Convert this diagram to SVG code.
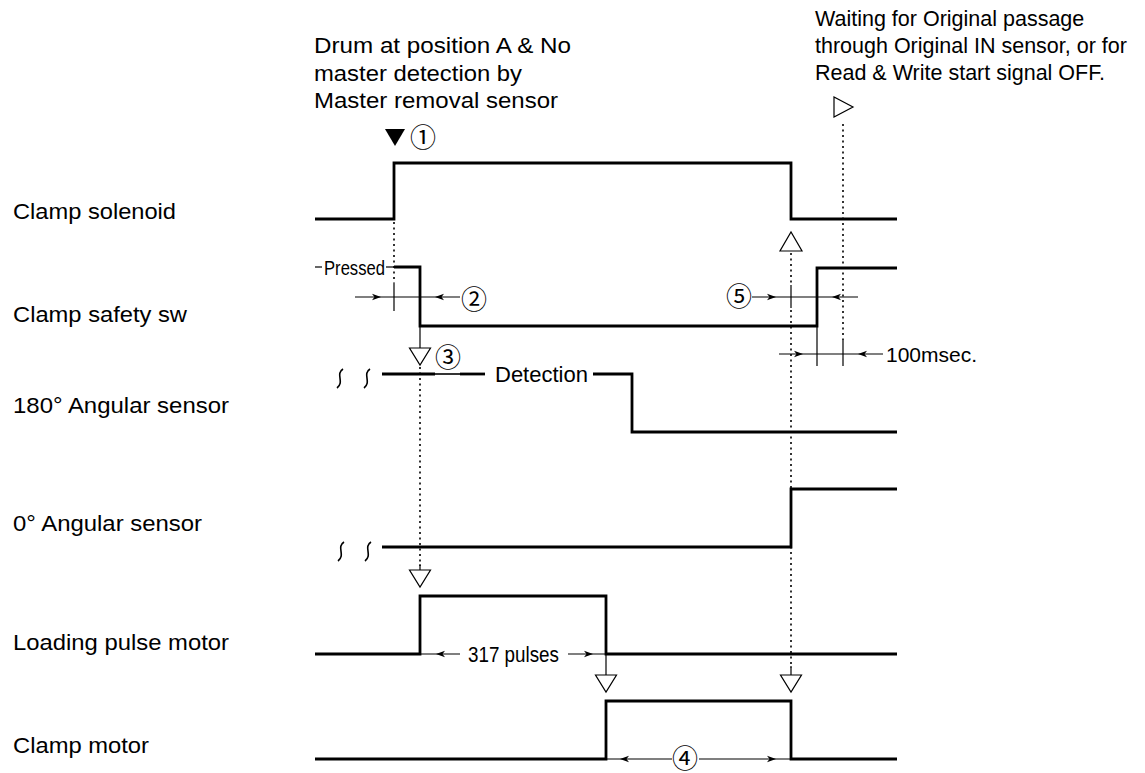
<svg xmlns="http://www.w3.org/2000/svg" xmlns:xlink="http://www.w3.org/1999/xlink" width="1145" height="773" viewBox="0 0 1145 773">
<style>
.sig{fill:none;stroke:#000;stroke-width:2.8;stroke-linejoin:miter}
.thin{fill:none;stroke:#000;stroke-width:1.2}
.sq{fill:none;stroke:#000;stroke-width:1.6}
.dot{fill:none;stroke:#000;stroke-width:1.6;stroke-dasharray:2 3.5}
.tri{fill:#fff;stroke:#000;stroke-width:1.2}
.lbl{font-family:"Liberation Sans",Arial,sans-serif;font-size:22px;fill:#000}
.note{font-family:"Liberation Sans",Arial,sans-serif;font-size:21.5px;fill:#000}
.num{font-family:"Noto Sans CJK JP","DejaVu Sans",sans-serif;font-size:26px;fill:#000;text-anchor:middle}
</style>
<defs>
<path id="arrR" d="M0,0 L-9,-3.2 L-6.5,0 L-9,3.2 Z" fill="#000"/>
<path id="arrL" d="M0,0 L9,-3.2 L6.5,0 L9,3.2 Z" fill="#000"/>
<path id="triDown" d="M-10.5,0 L10.5,0 L0,17 Z" class="tri"/>
</defs>
<rect width="1145" height="773" fill="#fff"/>

<g id="notes">
<text class="lbl" x="314" y="53" textLength="257" lengthAdjust="spacingAndGlyphs">Drum at position A &amp; No</text>
<text class="lbl" x="314" y="81" textLength="208" lengthAdjust="spacingAndGlyphs">master detection by</text>
<text class="lbl" x="314" y="108" textLength="244" lengthAdjust="spacingAndGlyphs">Master removal sensor</text>
<text class="note" x="815" y="26">Waiting for Original passage</text>
<text class="note" x="815" y="53">through Original IN sensor, or for</text>
<text class="note" x="815" y="80">Read &amp; Write start signal OFF.</text>
</g>

<g id="clamp-solenoid">
<text class="lbl" x="13" y="219" textLength="163" lengthAdjust="spacingAndGlyphs">Clamp solenoid</text>
<path class="sig" d="M315,219 H394 V163 H791 V219 H897"/>
</g>

<g id="clamp-safety-sw">
<text class="lbl" x="13" y="322" textLength="174" lengthAdjust="spacingAndGlyphs">Clamp safety sw</text>
<line class="thin" x1="315" y1="267" x2="322" y2="267"/>
<text class="lbl" x="324" y="275" textLength="61" lengthAdjust="spacingAndGlyphs" style="font-size:20px">Pressed</text>
<line class="thin" x1="386" y1="267" x2="395" y2="267"/>
<path class="sig" d="M394,267 H420 V326 H817 V268 H897"/>
</g>

<g id="angular-180">
<text class="lbl" x="13" y="413" textLength="216" lengthAdjust="spacingAndGlyphs">180° Angular sensor</text>
<path class="sq" d="M343,369 C335,374 345,382 337,388"/>
<path class="sq" d="M370,369 C362,374 372,382 364,388"/>
<path class="sig" d="M382,374 H435"/>
<path class="sig" d="M435,374 H460" style="stroke-width:1.6"/>
<path class="sig" d="M460,374 H485"/>
<text class="lbl" x="495" y="382">Detection</text>
<path class="sig" d="M593,374 H632 V432 H897"/>
</g>

<g id="angular-0">
<text class="lbl" x="13" y="531" textLength="189" lengthAdjust="spacingAndGlyphs">0° Angular sensor</text>
<path class="sq" d="M344,542 C336,547 346,555 338,561"/>
<path class="sq" d="M371,542 C363,547 373,555 365,561"/>
<path class="sig" d="M382,547 H791 V489 H897"/>
</g>

<g id="loading-pulse-motor">
<text class="lbl" x="13" y="650" textLength="216" lengthAdjust="spacingAndGlyphs">Loading pulse motor</text>
<path class="sig" d="M315,654 H420 V596 H606 V654 H897"/>
<line class="thin" x1="420" y1="654" x2="460" y2="654"/>
<use xlink:href="#arrL" x="436" y="654"/>
<text class="lbl" x="468" y="662" textLength="91" lengthAdjust="spacingAndGlyphs">317 pulses</text>
<line class="thin" x1="568" y1="654" x2="606" y2="654"/>
<use xlink:href="#arrR" x="593" y="654"/>
</g>

<g id="clamp-motor">
<text class="lbl" x="13" y="753" textLength="136" lengthAdjust="spacingAndGlyphs">Clamp motor</text>
<path class="sig" d="M315,759 H606 V701 H791 V759 H897"/>
<line class="thin" x1="606" y1="759" x2="672" y2="759"/>
<use xlink:href="#arrL" x="620" y="759"/>
<text class="num" x="685" y="768">④</text>
<line class="thin" x1="699" y1="759" x2="791" y2="759"/>
<use xlink:href="#arrR" x="776" y="759"/>
</g>

<g id="connectors">
<path d="M385,129 H405 L395,146 Z" fill="#000"/>
<text class="num" x="423" y="147">①</text>
<line class="dot" x1="394" y1="222" x2="394" y2="283"/>
<line class="thin" x1="394" y1="283" x2="394" y2="311"/>
<line class="thin" x1="355" y1="297" x2="460" y2="297"/>
<use xlink:href="#arrR" x="381" y="297"/>
<use xlink:href="#arrL" x="435" y="297"/>
<text class="num" x="474" y="309">②</text>
<line class="thin" x1="420" y1="326" x2="420" y2="348"/>
<use xlink:href="#triDown" x="420" y="348"/>
<text class="num" x="448" y="367">③</text>
<line class="dot" x1="420" y1="367" x2="420" y2="566"/>
<line class="thin" x1="420" y1="564" x2="420" y2="570"/>
<use xlink:href="#triDown" x="420" y="570"/>
<line class="thin" x1="606" y1="654" x2="606" y2="675"/>
<use xlink:href="#triDown" x="606" y="675"/>
<path class="tri" d="M780,251 H802 L791,232 Z"/>
<line class="dot" x1="791" y1="253" x2="791" y2="285"/>
<line class="thin" x1="791" y1="285" x2="791" y2="308"/>
<line class="dot" x1="791" y1="310" x2="791" y2="668"/>
<line class="thin" x1="791" y1="666" x2="791" y2="675"/>
<use xlink:href="#triDown" x="791" y="675"/>
<text class="num" x="739" y="306">⑤</text>
<line class="thin" x1="752" y1="297" x2="858" y2="297"/>
<use xlink:href="#arrR" x="776" y="297"/>
<use xlink:href="#arrL" x="832" y="297"/>
<path class="tri" d="M834,97 V117 L853,107 Z"/>
<line class="dot" x1="843" y1="124" x2="843" y2="340"/>
<line class="thin" x1="843" y1="340" x2="843" y2="366"/>
<line class="thin" x1="817" y1="326" x2="817" y2="366"/>
<line class="thin" x1="779" y1="354" x2="883" y2="354"/>
<use xlink:href="#arrR" x="803" y="354"/>
<use xlink:href="#arrL" x="858" y="354"/>
<text class="lbl" x="886" y="362" style="font-size:21px">100msec.</text>
</g>
</svg>
